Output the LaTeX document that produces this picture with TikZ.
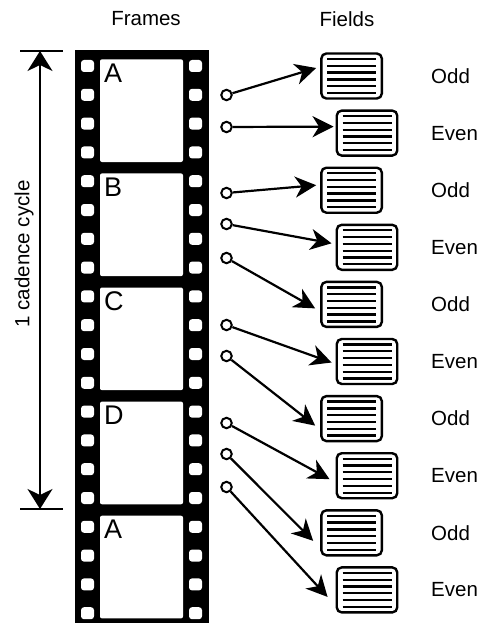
\documentclass[tikz,border=0pt]{standalone}
\usepackage{fontspec}
\setmainfont{Liberation Sans}
\usetikzlibrary{arrows.meta,calc}
\begin{document}
\begin{tikzpicture}[x=1pt,y=-1pt,
  lbl/.style={font=\fontsize{20.5}{24}\selectfont, inner sep=0pt},
  letter/.style={font=\fontsize{27}{30}\selectfont, inner sep=0pt, anchor=base west},
  hole/.style={fill=white, rounded corners=3pt},
  framewin/.style={fill=white, rounded corners=2pt},
  fieldbox/.style={draw=black, line width=2.4pt, rounded corners=5pt, minimum width=60.5pt, minimum height=45pt, fill=white, inner sep=0pt},
  knob/.style={circle, draw, line width=2pt, fill=white, minimum size=10.5pt, inner sep=0pt},
  conn/.style={line width=2.2pt, -{Stealth[length=21pt,width=21pt,inset=6.5pt]}},
  scanline/.style={line width=2.3pt},
]
\useasboundingbox (0,0) rectangle (479,623);
% film strip
\fill[black] (75,50) rectangle (209,623);
\foreach \i in {0,...,4}
  \fill[framewin] (100,59.3+114.1*\i) rectangle (183,162+114.1*\i);
\foreach \k in {0,...,19} {
  \fill[hole] (81,60+28.8*\k) rectangle (94,72+28.8*\k);
  \fill[hole] (189,60+28.8*\k) rectangle (202,72+28.8*\k);
}
\node[letter] (la) at (104,82.5) {A};
\node[letter] (lb) at (104,82.5+114.1) {B};
\node[letter] (lc) at (104,82.5+228.2) {C};
\node[letter] (ld) at (104,82.5+342.3) {D};
\node[letter] (le) at (104,82.5+456.4) {A};
% headings
\node[lbl] (hframes) at (146,19) {Frames};
\node[lbl] (hfields) at (347,19) {Fields};
% cadence arrow
\coordinate (ctop) at (40,51);
\coordinate (cbot) at (40,509);
\coordinate (tl) at (20,51);
\coordinate (tr) at (63,51);
\coordinate (bl) at (20,509);
\coordinate (br) at (63,509);
\draw[line width=1.7pt] (tl) -- (tr);
\draw[line width=1.7pt] (bl) -- (br);
\draw[line width=1.7pt, {Stealth[length=20pt,width=25pt,inset=6pt]}-{Stealth[length=20pt,width=25pt,inset=6pt]}] (ctop) -- (cbot);
\node[lbl, rotate=90] (cyc) at (24,254) {1 cadence cycle};
% fields
\foreach \i/\xx/\name in {1/351.6/Odd,2/367/Even,3/351.6/Odd,4/367/Even,5/351.6/Odd,6/367/Even,7/351.6/Odd,8/367/Even,9/351.6/Odd,10/367/Even} {
  \node[fieldbox] (f\i) at (\xx,76+57.1*\i-57.1) {};
  \foreach \d in {-17,-10.2,-3.4,3.4,10.2,17}
    \draw[scanline] ($(f\i.center)+(-24.5,\d)$) -- ($(f\i.center)+(24.5,\d)$);
  \node[lbl, anchor=west] (t\i) at (431,76+57.1*\i-57.1) {\name};
}
% knobs
\foreach \i/\yy in {1/95,2/127,3/193,4/224,5/258,6/325,7/356,8/423,9/454,10/487}
  \node[knob] (c\i) at (226.5,\yy) {};
% connectors
\draw[conn] (c1) -- ($(f1.west)+(-4,-8)$);
\draw[conn] (c2) -- ($(f2.west)+(-2,-6.5)$);
\draw[conn] (c3) -- ($(f3.west)+(-4,-5)$);
\draw[conn] (c4) -- ($(f4.west)+(-4,-4)$);
\draw[conn] (c5) -- ($(f5.west)+(-5,4)$);
\draw[conn] (c6) -- ($(f6.west)+(-4,1)$);
\draw[conn] (c7) -- ($(f7.west)+(-5,7)$);
\draw[conn] (c8) -- ($(f8.west)+(-6,3.5)$);
\draw[conn] (c9) -- ($(f9.west)+(-7,8)$);
\draw[conn] (c10) -- ($(f10.west)+(-8,7)$);
\end{tikzpicture}
\end{document}
